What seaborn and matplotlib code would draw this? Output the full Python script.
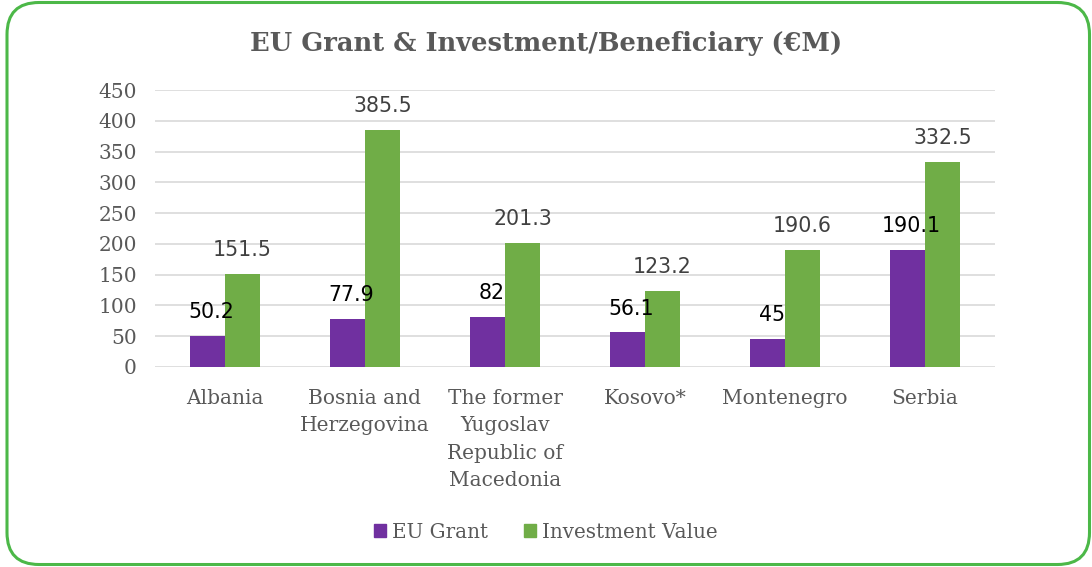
import numpy as np
import pandas as pd
import matplotlib.pyplot as plt
import seaborn as sns
from matplotlib.patches import FancyBboxPatch

sns.set_theme(style="white")
plt.rcParams['font.family'] = ['DejaVu Serif']

# data
countries = ["Albania", "Bosnia and\nHerzegovina", "The former\nYugoslav\nRepublic of\nMacedonia",
             "Kosovo*", "Montenegro", "Serbia"]
eu_grant = [50.2, 77.9, 82, 56.1, 45, 190.1]
investment = [151.5, 385.5, 201.3, 123.2, 190.6, 332.5]
grant_labels = ["50.2", "77.9", "82", "56.1", "45", "190.1"]
invest_labels = ["151.5", "385.5", "201.3", "123.2", "190.6", "332.5"]

df = pd.DataFrame({"Country": countries * 2,
                   "Value": eu_grant + investment,
                   "Series": ["EU Grant"] * 6 + ["Investment Value"] * 6})

fig = plt.figure(figsize=(10.92, 5.67), dpi=100)
ax = fig.add_axes([155 / 1092, 1 - 367 / 567, 840 / 1092, 277 / 567])

sns.barplot(data=df, x="Country", y="Value", hue="Series",
            palette=["#7030A0", "#70AD47"], saturation=1, width=0.5,
            linewidth=0, ax=ax, legend=False)

ax.set_ylim(0, 450)
ax.set_yticks(range(0, 451, 50))
ax.set_xlim(-0.5, 5.5)
ax.grid(axis="y", color="#d9d9d9", linewidth=1.2)
ax.set_axisbelow(True)
for s in ax.spines.values():
    s.set_visible(False)
ax.set_xlabel("")
ax.set_ylabel("")
ax.tick_params(axis="both", length=0, labelsize=14.5, labelcolor="#595959")
ax.tick_params(axis="x", pad=16)
ax.tick_params(axis="y", pad=13)
for t in ax.get_xticklabels():
    t.set_linespacing(1.55)
    t.set_verticalalignment("top")

# data labels
for i in range(len(countries)):
    ax.annotate(grant_labels[i], (i - 0.125, eu_grant[i]), xytext=(3, 10),
                textcoords="offset points", ha="center", va="bottom",
                fontsize=14.8, color="black", family="DejaVu Sans")
    ax.annotate(invest_labels[i], (i + 0.125, investment[i]), xytext=(0, 10),
                textcoords="offset points", ha="center", va="bottom",
                fontsize=14.8, color="#404040", family="DejaVu Sans")

fig.text(0.5, 1 - 43 / 567, "EU Grant & Investment/Beneficiary (€M)", ha="center", va="center",
         fontsize=18.5, fontweight="bold", color="#595959")

handles = [plt.Rectangle((0, 0), 1, 1, color="#7030A0"),
           plt.Rectangle((0, 0), 1, 1, color="#70AD47")]
fig.legend(handles, ["EU Grant", "Investment Value"], loc="center",
           bbox_to_anchor=(0.5, 1 - 532 / 567), ncol=2, frameon=False,
           fontsize=14.3, handlelength=0.6, handleheight=0.6, handletextpad=0.3,
           columnspacing=1.8, labelcolor="#595959")

# rounded green border (inches, so the corners stay round)
border = FancyBboxPatch((0.07, 0.025), 10.825, 5.62,
                        boxstyle="round,pad=0,rounding_size=0.32",
                        transform=fig.dpi_scale_trans, fill=False,
                        edgecolor="#4CB848", linewidth=2.2)
fig.patches.append(border)

fig.savefig("out.png", dpi=100)
